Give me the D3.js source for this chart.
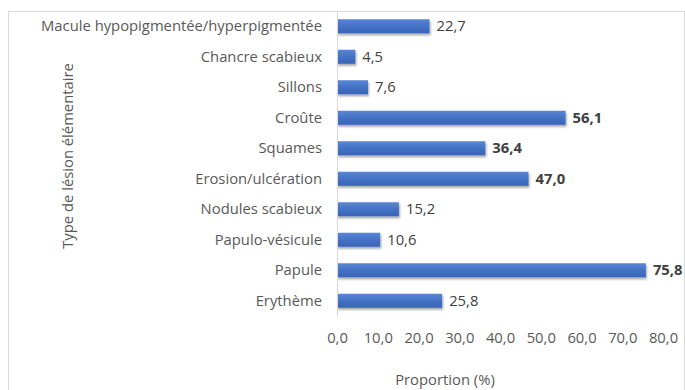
<!DOCTYPE html>
<meta charset="utf-8">
<script src="https://d3js.org/d3.v7.min.js"></script>
<style>
    body { margin: 0; background: #fff; }
    text { font-family: "Open Sans", sans-serif; }
</style>
<div id="vis"></div>
<script>
    // data, top to bottom
    var lesions = ["Macule hypopigmentée/hyperpigmentée", "Chancre scabieux", "Sillons", "Croûte",
        "Squames", "Erosion/ulcération", "Nodules scabieux", "Papulo-vésicule", "Papule", "Erythème"];
    var proportions = [22.7, 4.5, 7.6, 56.1, 36.4, 47.0, 15.2, 10.6, 75.8, 25.8];
    var boldLabels = ["Croûte", "Squames", "Erosion/ulcération", "Papule"];
    var xTicks = [0, 10, 20, 30, 40, 50, 60, 70, 80];

    var W = 685, H = 390;
    var mgn = { top: 11, lft: 337 };
    var fnt = "'Open Sans', sans-serif", fs = 14.8;

    var svg = d3.select("#vis").append("svg")
        .attr("width", W)
        .attr("height", H);

    // chart area border
    svg.append("rect")
        .attr("x", 8.5).attr("y", 11.5)
        .attr("width", 676).attr("height", 400)
        .attr("fill", "none")
        .attr("stroke", "#d9d9d9");

    var defs = svg.append("defs");
    var grad = defs.append("linearGradient")
        .attr("id", "barGrad")
        .attr("x1", 0).attr("y1", 0).attr("x2", 0).attr("y2", 1);
    grad.append("stop").attr("offset", "0%").attr("stop-color", "#5a86d6");
    grad.append("stop").attr("offset", "50%").attr("stop-color", "#4472c4");
    grad.append("stop").attr("offset", "100%").attr("stop-color", "#3864b8");
    var shadow = defs.append("filter").attr("id", "shd")
        .attr("x", "-5%").attr("y", "-30%").attr("width", "115%").attr("height", "180%");
    shadow.append("feDropShadow")
        .attr("dx", 1).attr("dy", 2).attr("stdDeviation", 1.2)
        .attr("flood-color", "#000").attr("flood-opacity", 0.35);

    var x = d3.scaleLinear()
        .domain([0, 80])
        .range([mgn.lft, 663]);

    var y = d3.scaleBand()
        .domain(lesions)
        .range([11, 316])
        .paddingInner(0.54)
        .paddingOuter(0.27);

    var g = svg.append("g");

    // bars
    g.selectAll("rect.bar")
        .data(lesions)
        .enter()
        .append("rect")
        .attr("class", "bar")
        .attr("x", x(0))
        .attr("y", function (d) { return y(d); })
        .attr("width", function (d, i) { return x(proportions[i]) - x(0); })
        .attr("height", y.bandwidth())
        .attr("fill", "url(#barGrad)")
        .attr("filter", "url(#shd)");

    // value labels
    g.selectAll("text.val")
        .data(lesions)
        .enter()
        .append("text")
        .attr("class", "val")
        .attr("x", function (d, i) { return x(proportions[i]) + 7; })
        .attr("y", function (d) { return y(d) + y.bandwidth() / 2; })
        .attr("dy", "0.35em")
        .attr("font-size", fs)
        .attr("font-weight", function (d) { return boldLabels.indexOf(d) >= 0 ? "bold" : "normal"; })
        .attr("fill", "#404040")
        .text(function (d, i) { return d3.format(".1f")(proportions[i]).replace(".", ","); });

    // y axis
    var yAx = svg.append("g")
        .attr("transform", "translate(" + mgn.lft + ",0)")
        .call(d3.axisLeft(y).tickSize(0).tickPadding(15));
    yAx.select(".domain").attr("stroke", "#d9d9d9");
    yAx.selectAll("text")
        .attr("font-size", fs)
        .attr("fill", "#595959")
        .style("font-family", fnt);

    // x axis (labels only)
    var xAx = svg.append("g")
        .attr("transform", "translate(0,329)")
        .call(d3.axisBottom(x).tickValues(xTicks).tickSize(0)
            .tickFormat(function (d) { return d3.format(".1f")(d).replace(".", ","); }));
    xAx.select(".domain").remove();
    xAx.selectAll("text")
        .attr("font-size", fs)
        .attr("fill", "#595959")
        .style("font-family", fnt);

    // axis titles
    svg.append("text")
        .attr("x", 445)
        .attr("y", 385)
        .attr("text-anchor", "middle")
        .attr("font-size", fs)
        .attr("fill", "#595959")
        .text("Proportion (%)");
    svg.append("text")
        .attr("transform", "translate(73,156) rotate(-90)")
        .attr("text-anchor", "middle")
        .attr("font-size", fs)
        .attr("fill", "#595959")
        .text("Type de lésion élémentaire");
</script>
